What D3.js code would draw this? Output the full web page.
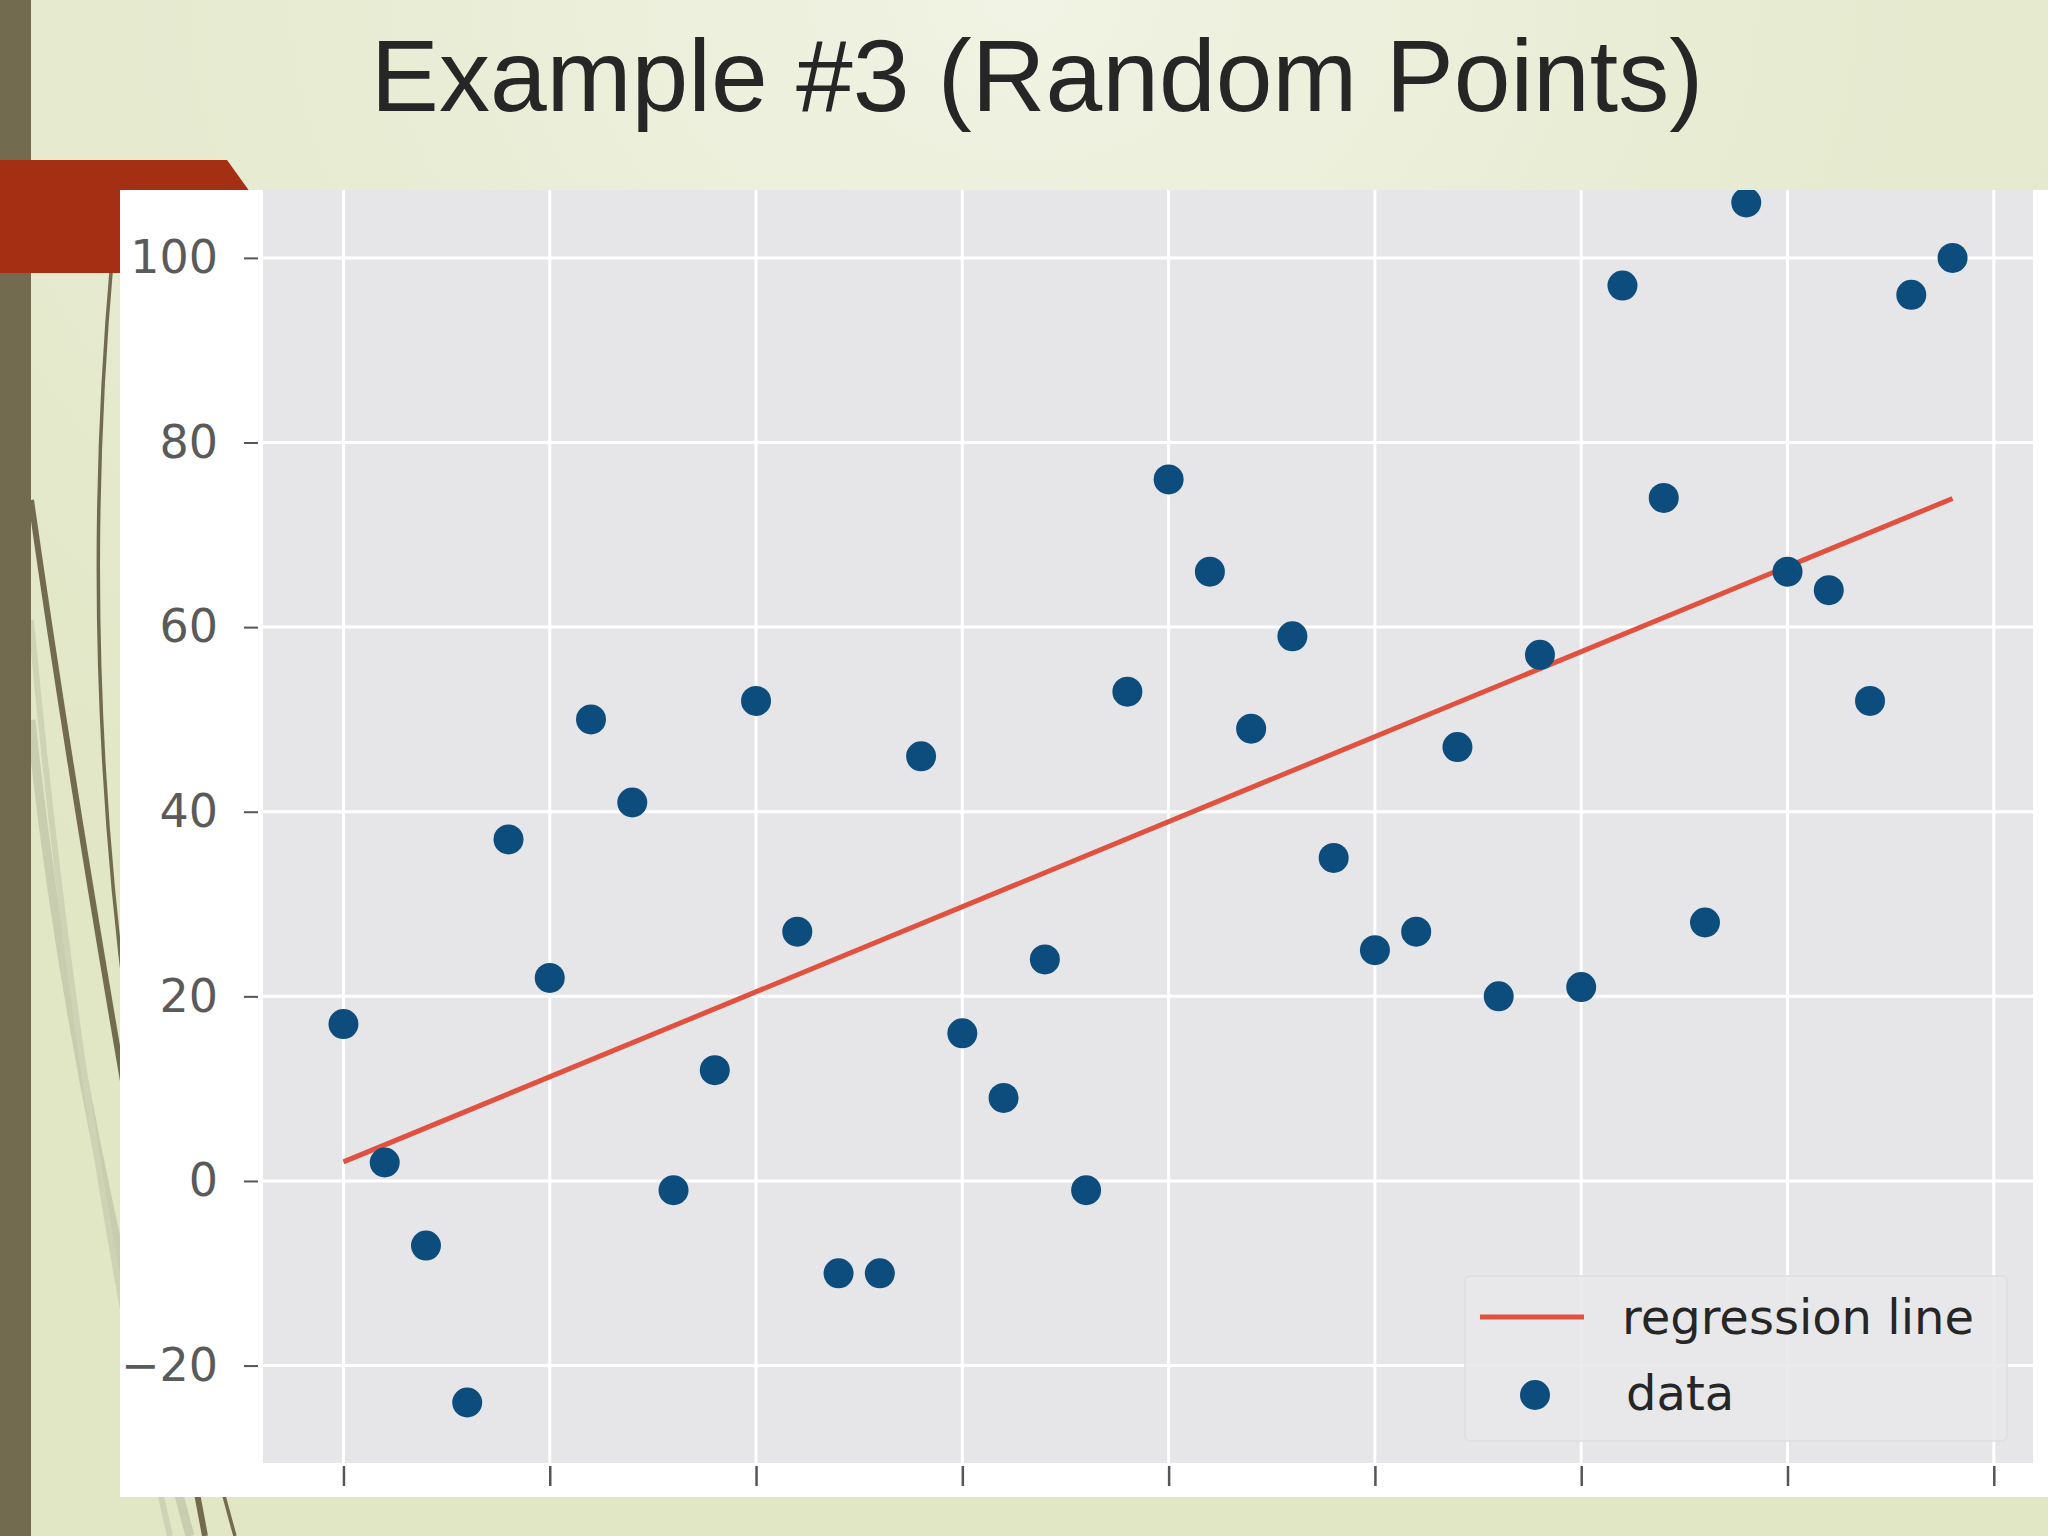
<!DOCTYPE html>
<html>
<head>
<meta charset="utf-8">
<script src="https://cdn.jsdelivr.net/npm/d3@7"></script>
<style>
  html, body { margin: 0; padding: 0; background: #e3e8c8; }
  svg { display: block; }
</style>
</head>
<body>
<svg id="chart" width="2048" height="1536"></svg>
<script>
// ---- data ----
const titleText = "Example #3 (Random Points)";
const xValues = [0,1,2,3,4,5,6,7,8,9,10,11,12,13,14,15,16,17,18,19,20,21,22,23,24,25,26,27,28,29,30,31,32,33,34,35,36,37,38,39];
const yValues = [17,2,-7,-24,37,22,50,41,-1,12,52,27,-10,-10,46,16,9,24,-1,53,76,66,49,59,35,25,27,47,20,57,21,97,74,28,106,66,64,52,96,100];
const yTickValues = [-20,0,20,40,60,80,100];
const xTickValues = [0,5,10,15,20,25,30,35,40];
const legendLabels = ["regression line", "data"];

// ---- layout ----
const svg = d3.select("#chart");
const W = 2048, H = 1536;
const defs = svg.append("defs");

const bg = defs.append("radialGradient").attr("id","bgGrad")
  .attr("cx", 0.5).attr("cy", 0.0).attr("r", 0.75);
bg.append("stop").attr("offset","0%").attr("stop-color","#f1f3e4");
bg.append("stop").attr("offset","45%").attr("stop-color","#e8ecd3");
bg.append("stop").attr("offset","100%").attr("stop-color","#e1e6c5");
svg.append("rect").attr("width",W).attr("height",H).attr("fill","url(#bgGrad)");

// decorative curves
const deco = svg.append("g").attr("fill","none");
deco.append("path").attr("d","M 31 720 Q 70 1100 190 1536").attr("stroke","#c9cdb0").attr("stroke-width",9);
deco.append("path").attr("d","M 31 620 Q 80 1150 170 1536").attr("stroke","#cfd3b6").attr("stroke-width",6);
deco.append("path").attr("d","M 31 500 Q 95 950 205 1536").attr("stroke","#736b50").attr("stroke-width",6);
deco.append("path").attr("d","M 112 260 Q 55 900 235 1536").attr("stroke","#736b50").attr("stroke-width",3.5);

// left bar
svg.append("rect").attr("x",0).attr("y",0).attr("width",31).attr("height",H).attr("fill","#736b50");
// red banner
svg.append("polygon").attr("points","0,160 227,160 250,192 250,273 0,273").attr("fill","#a52f13");

// title
svg.append("text").attr("x",1037).attr("y",111).attr("text-anchor","middle")
  .attr("font-family","'Liberation Sans', Arial, sans-serif").attr("font-size",102)
  .attr("fill","#262626").text(titleText);

// chart image (white)
svg.append("rect").attr("x",120).attr("y",190).attr("width",W-120).attr("height",1497-190).attr("fill","#ffffff");

const plot = {left:263, right:2033, top:190, bottom:1463};
const x = d3.scaleLinear().domain([-1.95, 40.95]).range([plot.left, plot.right]);
const y = d3.scaleLinear().domain([-30.5, 112.5]).range([1462.5, 142.5]);

defs.append("clipPath").attr("id","plotClip").append("rect")
  .attr("x",plot.left).attr("y",plot.top).attr("width",plot.right-plot.left).attr("height",plot.bottom-plot.top);

svg.append("rect").attr("x",plot.left).attr("y",plot.top)
  .attr("width",plot.right-plot.left).attr("height",plot.bottom-plot.top).attr("fill","#e6e6e8");

// grid
const grid = svg.append("g").attr("clip-path","url(#plotClip)").attr("stroke","#ffffff").attr("stroke-width",3);
grid.selectAll("line.gy").data(yTickValues).join("line").attr("class","gy")
  .attr("x1",plot.left).attr("x2",plot.right).attr("y1",d=>y(d)).attr("y2",d=>y(d));
grid.selectAll("line.gx").data(xTickValues).join("line").attr("class","gx")
  .attr("y1",plot.top).attr("y2",plot.bottom).attr("x1",d=>x(d)).attr("x2",d=>x(d));

// axes
const yAxis = svg.append("g").attr("transform","translate(258,0)")
  .call(d3.axisLeft(y).tickValues(yTickValues).tickSizeInner(14).tickSizeOuter(0).tickPadding(26));
yAxis.select(".domain").remove();
yAxis.selectAll("line").attr("stroke","#555").attr("stroke-width",2);
yAxis.selectAll("text").attr("font-family","'DejaVu Sans', sans-serif").attr("font-size",46).attr("fill","#5a5a5a");

const xAxis = svg.append("g").attr("transform","translate(0,1466)")
  .call(d3.axisBottom(x).tickValues(xTickValues).tickFormat("").tickSizeInner(20).tickSizeOuter(0));
xAxis.select(".domain").remove();
xAxis.selectAll("line").attr("stroke","#555").attr("stroke-width",2.5);

// regression (least squares from the data)
const mx = d3.mean(xValues), my = d3.mean(yValues);
let sxy = 0, sxx = 0;
xValues.forEach((xv,i)=>{ sxy += (xv-mx)*(yValues[i]-my); sxx += (xv-mx)*(xv-mx); });
const slope = sxy/sxx, intercept = my - slope*mx;
const regPts = [d3.min(xValues), d3.max(xValues)].map(xv => [xv, intercept + slope*xv]);

const plotG = svg.append("g").attr("clip-path","url(#plotClip)");
plotG.append("path").datum(regPts)
  .attr("d", d3.line().x(d=>x(d[0])).y(d=>y(d[1])))
  .attr("fill","none").attr("stroke","#e0523f").attr("stroke-width",5);

plotG.selectAll("circle").data(xValues.map((xv,i)=>[xv,yValues[i]])).join("circle")
  .attr("cx",d=>x(d[0])).attr("cy",d=>y(d[1])).attr("r",15).attr("fill","#0d4d7e");

// legend
const lg = svg.append("g");
lg.append("rect").attr("x",1465).attr("y",1276).attr("width",542).attr("height",165).attr("rx",5)
  .attr("fill","#e8e8ea").attr("fill-opacity",0.85).attr("stroke","#dedede").attr("stroke-width",1.5);
lg.append("line").attr("x1",1480).attr("x2",1584).attr("y1",1317).attr("y2",1317)
  .attr("stroke","#e0523f").attr("stroke-width",5);
lg.append("circle").attr("cx",1535).attr("cy",1395).attr("r",15).attr("fill","#0d4d7e");
lg.selectAll("text").data(legendLabels).join("text")
  .attr("x",(d,i)=> i===0 ? 1622 : 1626).attr("y",(d,i)=> i===0 ? 1317 : 1393)
  .attr("dy","0.35em")
  .attr("font-family","'DejaVu Sans', sans-serif").attr("font-size",48).attr("fill","#262626")
  .text(d=>d);
</script>
</body>
</html>
